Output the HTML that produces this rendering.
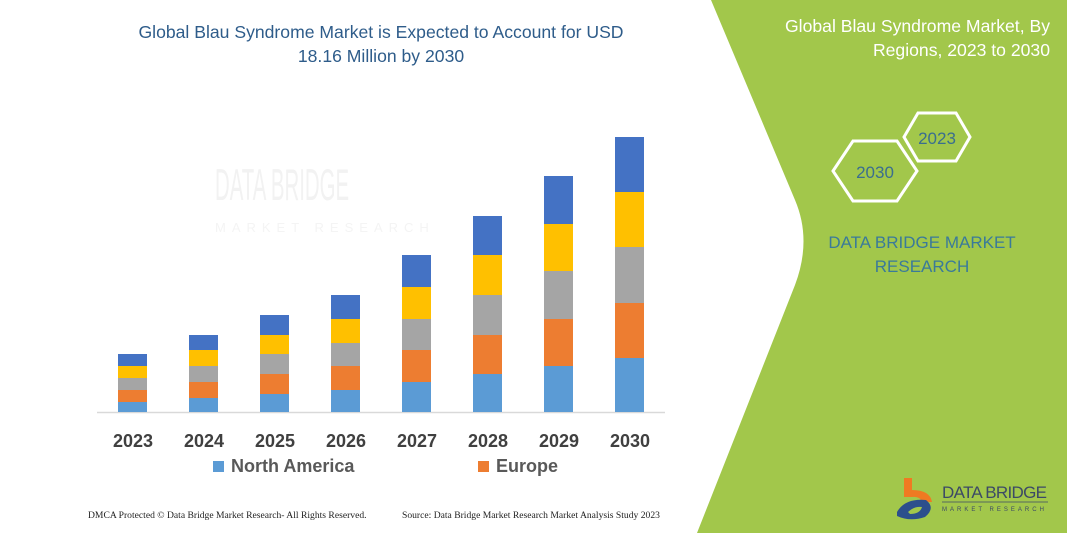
<!DOCTYPE html>
<html><head><meta charset="utf-8"><style>
html,body{margin:0;padding:0;background:#fff;}
body{width:1067px;height:533px;overflow:hidden;position:relative;font-family:"Liberation Sans",sans-serif;}
</style></head><body>
<svg width="1067" height="533" viewBox="0 0 1067 533" style="position:absolute;left:0;top:0" font-family="Liberation Sans, sans-serif">
<path d="M711,0 L1067,0 L1067,533 L697,533 L795,285 Q812,240 795,200 Z" fill="#a2c74b"/>
<!-- watermark -->
<g transform="translate(215,200) scale(0.6,1.3)"><text x="0" y="0" font-size="34" fill="#f2f2f2">DATA BRIDGE</text></g>
<text x="215" y="232" font-size="13" fill="#f4f4f4" letter-spacing="6">MARKET RESEARCH</text>
<!-- title -->
<text x="381" y="38" font-size="17.6" fill="#2e5c8a" text-anchor="middle">Global Blau Syndrome Market is Expected to Account for USD</text>
<text x="381" y="62" font-size="17.6" fill="#2e5c8a" text-anchor="middle">18.16 Million by 2030</text>
<!-- axis -->
<line x1="97" y1="412.5" x2="665" y2="412.5" stroke="#d9d9d9" stroke-width="1.5"/>
<g id="bars"></g>
<g font-size="18" font-weight="bold" fill="#404040" text-anchor="middle">
<text x="133" y="447">2023</text><text x="204" y="447">2024</text><text x="275" y="447">2025</text><text x="346" y="447">2026</text><text x="417" y="447">2027</text><text x="488" y="447">2028</text><text x="559" y="447">2029</text><text x="630" y="447">2030</text>
</g>
<rect x="213" y="461" width="11" height="11" fill="#5b9bd5"/>
<text x="231" y="472" font-size="18" font-weight="bold" fill="#595959">North America</text>
<rect x="478" y="461" width="11" height="11" fill="#ed7d31"/>
<text x="496" y="472" font-size="18" font-weight="bold" fill="#595959">Europe</text>
<text x="88" y="518" font-size="9.6" fill="#222" font-family="Liberation Serif, serif">DMCA Protected © Data Bridge Market Research-  All Rights Reserved.</text>
<text x="402" y="518" font-size="9.6" fill="#222" font-family="Liberation Serif, serif">Source: Data Bridge Market Research  Market Analysis Study 2023</text>
<!-- right panel -->
<text x="1050" y="32" font-size="17.6" fill="#fff" text-anchor="end">Global Blau Syndrome Market, By</text>
<text x="1050" y="56" font-size="17.6" fill="#fff" text-anchor="end">Regions, 2023 to 2030</text>
<polygon points="833,171 853,141 897,141 917,171 897,201 853,201" fill="none" stroke="#fff" stroke-width="3"/>
<polygon points="904,137 918,113 956,113 970,137 956,161 918,161" fill="none" stroke="#fff" stroke-width="3"/>
<text x="875" y="178" font-size="17" fill="#3a6e8f" text-anchor="middle">2030</text>
<text x="937" y="144" font-size="17" fill="#3a6e8f" text-anchor="middle">2023</text>
<text x="922" y="248" font-size="17" fill="#3a7a9a" text-anchor="middle">DATA BRIDGE MARKET</text>
<text x="922" y="272" font-size="17" fill="#3a7a9a" text-anchor="middle">RESEARCH</text>
<!-- logo -->
<path d="M904,478 L912,478 L912,490 Q930,490 932,502 L922,502 Q920,496 912,497 L904,497 Z" fill="#ef7a22"/>
<path d="M897,512 Q905,498 926,500 Q936,508 925,517 Q910,522 897,516 Z" fill="#2c4f8c"/>
<path d="M908,512 Q914,506 922,507 Q920,514 910,514 Z" fill="#a2c74b"/>
<text x="942" y="498" font-size="17" fill="#3c4a66" textLength="105">DATA BRIDGE</text>
<line x1="942" y1="502" x2="1048" y2="502" stroke="#3c4a66" stroke-width="0.7"/>
<text x="942" y="511" font-size="6" fill="#3c4a66" letter-spacing="3">MARKET RESEARCH</text>
</svg>
<script>
var d=[[354,366,378,390,402],[335,350,366,382,398],[315,335,354,374,394],[295,319,343,366,390],[255,287,319,350,382],[216,255,295,335,374],[176,224,271,319,366],[137,192,247,303,358]];
var c=["#4472c4","#ffc000","#a5a5a5","#ed7d31","#5b9bd5"];
var s="";
d.forEach(function(b,i){var x=118+i*71;for(var k=0;k<5;k++){var y0=b[k],y1=k<4?b[k+1]:412;s+='<rect x="'+x+'" y="'+y0+'" width="29" height="'+(y1-y0)+'" fill="'+c[k]+'"/>';}});
document.getElementById("bars").innerHTML=s;
</script>
</body></html>
